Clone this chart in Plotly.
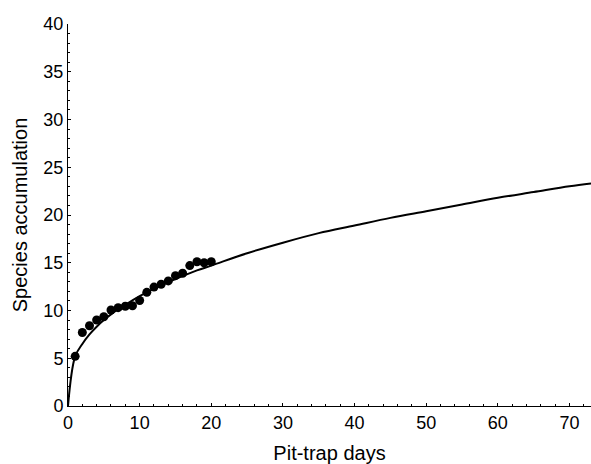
import plotly.graph_objects as go

# observed accumulation (pit-trap days vs species)
days = list(range(1, 21))
species = [5.2, 7.7, 8.4, 9.0, 9.35, 10.05, 10.3, 10.45, 10.5, 11.05,
           11.9, 12.45, 12.75, 13.1, 13.65, 13.9, 14.7, 15.1, 15.0, 15.1]

# fitted curve
fit_x = [0, 1, 2, 3, 4, 5, 6, 8, 10, 12, 15, 18, 20, 25, 30, 35, 40,
         45, 50, 55, 60, 65, 70, 73]
fit_y = [0, 5.2, 6.5, 7.5, 8.3, 9.0, 9.6, 10.6, 11.5, 12.3, 13.3, 14.2,
         14.7, 16.0, 17.1, 18.1, 18.9, 19.7, 20.4, 21.1, 21.8, 22.4, 23.0, 23.3]

tickfont = dict(family="Liberation Sans, Arial", size=18, color="black")

fig = go.Figure()
fig.add_trace(go.Scatter(x=fit_x, y=fit_y, mode="lines", line_shape="spline",
                         line=dict(color="black", width=2), showlegend=False))
fig.add_trace(go.Scatter(x=days, y=species, mode="markers",
                         marker=dict(color="black", size=9), showlegend=False))

fig.update_layout(
    width=591, height=464,
    margin=dict(l=68, r=0, t=24, b=58),
    paper_bgcolor="white", plot_bgcolor="white",
    font=dict(family="Liberation Sans, Arial", color="black"),
    xaxis=dict(
        range=[0, 73], dtick=10, tick0=0, automargin=False,
        ticks="inside", ticklen=3, tickcolor="black",
        minor=dict(dtick=2, ticks="inside", ticklen=2, tickcolor="black"),
        showline=True, linecolor="black", linewidth=1,
        showgrid=False, zeroline=False, tickfont=tickfont,
        title=dict(text="Pit-trap days", font=dict(size=20), standoff=16),
    ),
    yaxis=dict(
        range=[0, 40], dtick=5, tick0=0, automargin=False,
        ticks="inside", ticklen=3, tickcolor="black",
        minor=dict(dtick=1, ticks="inside", ticklen=2, tickcolor="black"),
        showline=True, linecolor="black", linewidth=1,
        showgrid=False, zeroline=False, tickfont=tickfont,
        title=dict(text="Species accumulation", font=dict(size=20), standoff=10),
    ),
)

# page body has a default 8px margin; drop it so the figure fills the window
fig.write_html("out.html", config={"displayModeBar": False},
               post_script="document.body.style.margin='0px';document.body.style.overflow='hidden';")
